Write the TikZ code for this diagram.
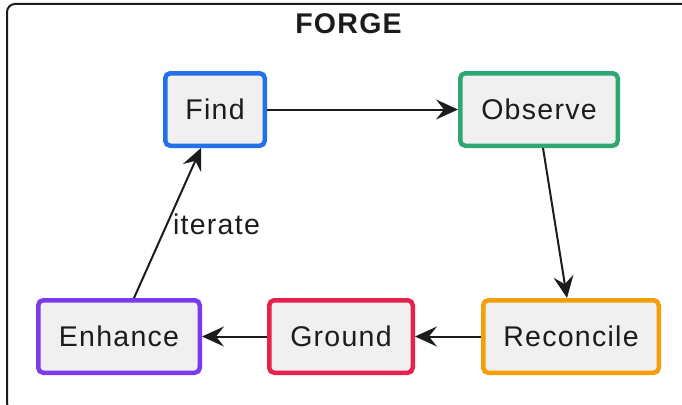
\documentclass[tikz,border=0pt]{standalone}
\usepackage{fontspec}
\setmainfont{Liberation Sans}[LetterSpace=4.5]
\usetikzlibrary{arrows.meta}
\definecolor{cfind}{HTML}{2371E8}
\definecolor{cobs}{HTML}{2EA772}
\definecolor{crec}{HTML}{F59E0B}
\definecolor{cgnd}{HTML}{E5214C}
\definecolor{cenh}{HTML}{7C3AED}
\definecolor{cfill}{HTML}{F0F0F0}
\definecolor{cink}{HTML}{1C1C1C}
\tikzset{
  stage/.style={draw=#1, fill=cfill, line width=4.5pt, rounded corners=5pt,
    inner sep=0pt, minimum height=72.5pt, text=cink,
    font=\fontsize{28.5}{34}\selectfont},
  conn/.style={draw=cink, line width=2pt,
    -{Stealth[length=22pt, width=20pt, inset=8pt]}},
  lbl/.style={text=cink, font=\fontsize{28.5}{34}\selectfont, inner sep=0pt},
}
\begin{document}
\begin{tikzpicture}[x=1pt, y=-1pt]
\useasboundingbox (0,0) rectangle (682,404);
\begin{scope}
\clip (0,0) rectangle (682,404);
\draw[cink, line width=2pt, rounded corners=8pt] (7,4) rectangle (700,411);
\end{scope}
\node[lbl, font=\bfseries\fontsize{28.5}{34}\selectfont] (title) at (348.5,24) {FORGE};

\node[stage=cfind, minimum width=99.5pt] (find) at (215,109.5) {Find};
\node[stage=cobs, minimum width=157.5pt] (obs) at (539,109.5) {Observe};
\node[stage=crec, minimum width=175.5pt] (rec) at (571,336.5) {Reconcile};
\node[stage=cgnd, minimum width=143.5pt] (gnd) at (341,336.5) {Ground};
\node[stage=cenh, minimum width=161.5pt] (enh) at (119,336.5) {Enhance};

\draw[conn] (find.east) -- (obs.west);
\draw[conn] ([xshift=4pt]obs.south) -- ([xshift=-4pt]rec.north);
\draw[conn] (rec.west) -- (gnd.east);
\draw[conn] (gnd.west) -- (enh.east);
\draw[conn] ([xshift=15pt]enh.north) -- ([xshift=-14pt]find.south);
\node[lbl] (iter) at (216.5,224) {iterate};
\end{tikzpicture}
\end{document}
